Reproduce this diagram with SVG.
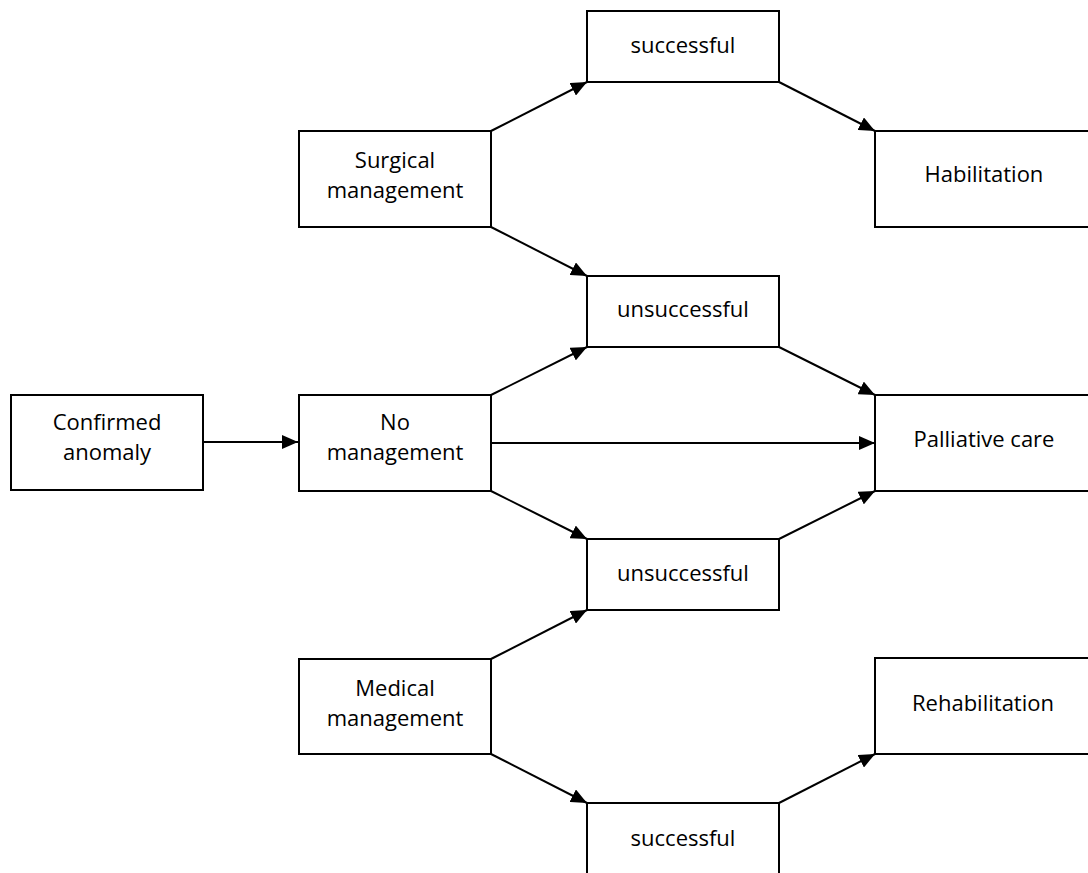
<svg xmlns="http://www.w3.org/2000/svg" width="1088" height="873" viewBox="0 0 1088 873">
<style>
.box{fill:#fff;stroke:#000;stroke-width:2}
.t{font-family:"Open Sans","Noto Sans",sans-serif;font-size:22px;fill:#000;text-anchor:middle}
.c{stroke:#000;stroke-width:2;fill:none;marker-end:url(#ah)}
</style>
<defs>
<marker id="ah" markerUnits="userSpaceOnUse" markerWidth="16" markerHeight="14" refX="16" refY="7" orient="auto">
<path d="M0,0 L16,7 L0,14 z" fill="#000"/>
</marker>
</defs>
<rect width="1088" height="873" fill="#fff"/>
<g id="connectors">
<line class="c" x1="203" y1="442" x2="298" y2="442"/>
<line class="c" x1="491" y1="131" x2="587" y2="82"/>
<line class="c" x1="491" y1="227" x2="587" y2="276"/>
<line class="c" x1="779" y1="82" x2="875" y2="131"/>
<line class="c" x1="491" y1="395" x2="587" y2="347"/>
<line class="c" x1="779" y1="347" x2="875" y2="395"/>
<line class="c" x1="491" y1="443" x2="875" y2="443"/>
<line class="c" x1="491" y1="491" x2="587" y2="539"/>
<line class="c" x1="779" y1="539" x2="875" y2="491"/>
<line class="c" x1="491" y1="659" x2="587" y2="610"/>
<line class="c" x1="491" y1="754" x2="587" y2="803"/>
<line class="c" x1="779" y1="803" x2="875" y2="754"/>
</g>
<g id="confirmed"><rect class="box" x="11" y="395" width="192" height="95"/><text class="t" x="107" y="430">Confirmed</text><text class="t" x="107" y="460">anomaly</text></g>
<g id="surgical"><rect class="box" x="299" y="131" width="192" height="96"/><text class="t" x="395" y="168">Surgical</text><text class="t" x="395" y="198">management</text></g>
<g id="nomgmt"><rect class="box" x="299" y="395" width="192" height="96"/><text class="t" x="395" y="430">No</text><text class="t" x="395" y="460">management</text></g>
<g id="medical"><rect class="box" x="299" y="659" width="192" height="95"/><text class="t" x="395" y="696">Medical</text><text class="t" x="395" y="726">management</text></g>
<g id="successful1"><rect class="box" x="587" y="11" width="192" height="71"/><text class="t" x="683" y="53">successful</text></g>
<g id="unsuccessful1"><rect class="box" x="587" y="276" width="192" height="71"/><text class="t" x="683" y="317">unsuccessful</text></g>
<g id="unsuccessful2"><rect class="box" x="587" y="539" width="192" height="71"/><text class="t" x="683" y="581">unsuccessful</text></g>
<g id="successful2"><rect class="box" x="587" y="803" width="192" height="80"/><text class="t" x="683" y="846">successful</text></g>
<g id="habilitation"><rect class="box" x="875" y="131" width="218" height="96"/><text class="t" x="984" y="182">Habilitation</text></g>
<g id="palliative"><rect class="box" x="875" y="395" width="218" height="96"/><text class="t" x="984" y="447">Palliative care</text></g>
<g id="rehabilitation"><rect class="box" x="875" y="658" width="218" height="96"/><text class="t" x="983" y="711">Rehabilitation</text></g>
</svg>
